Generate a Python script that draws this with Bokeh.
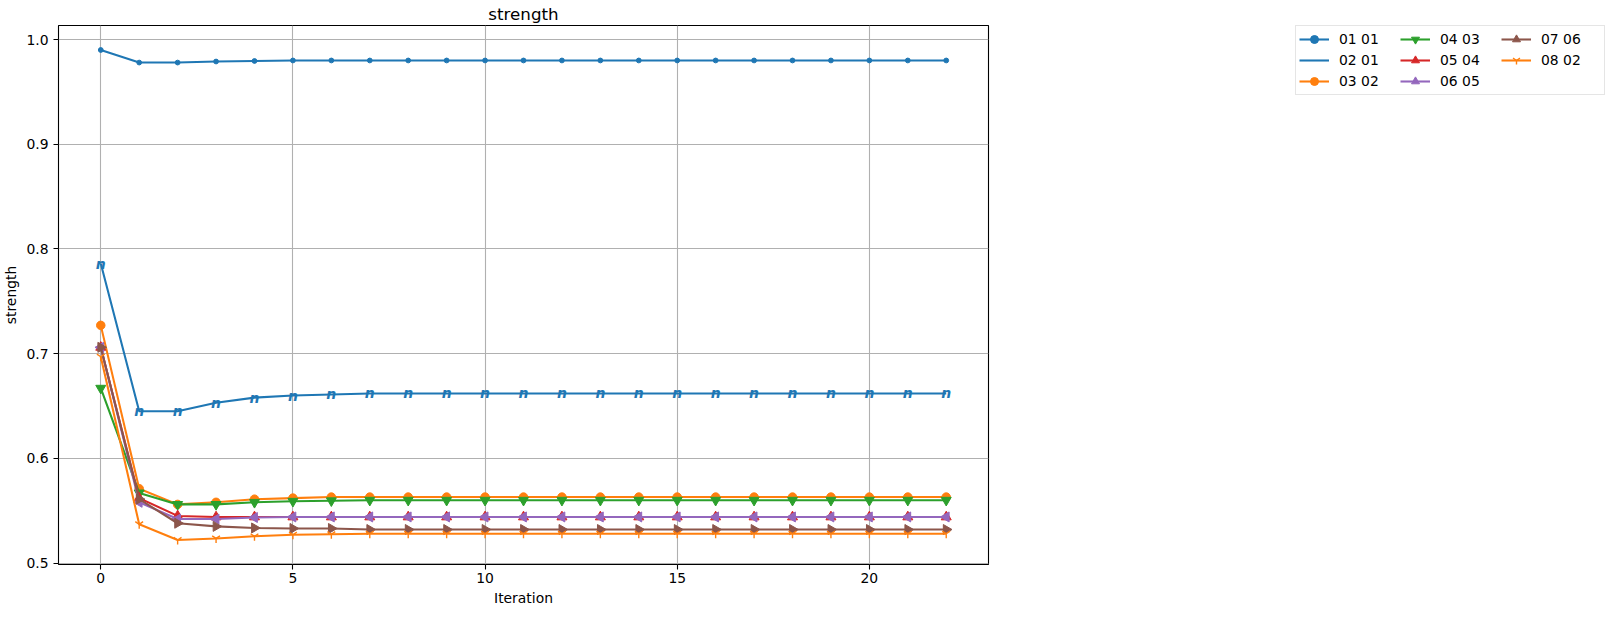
import math
from bokeh.plotting import figure
from bokeh.layouts import row
from bokeh.models import (Range1d, FixedTicker, Legend, LegendItem, ColumnDataSource,
                          PrintfTickFormatter)
from bokeh.core.properties import value
from bokeh.embed import file_html
from bokeh.resources import INLINE

iterations = list(range(23))

s_01_01 = [0.990, 0.978, 0.978, 0.979, 0.9795] + [0.980] * 18
s_02_01 = [0.786, 0.645, 0.645, 0.653, 0.658, 0.660, 0.661] + [0.662] * 16
s_03_02 = [0.727, 0.571, 0.556, 0.558, 0.561, 0.562, 0.563] + [0.563] * 16
s_04_03 = [0.667, 0.567, 0.556, 0.556, 0.558, 0.559, 0.5595] + [0.560] * 16
s_05_04 = [0.706, 0.562, 0.545, 0.544, 0.544, 0.544, 0.544] + [0.544] * 16
s_06_05 = [0.706, 0.558, 0.542, 0.542, 0.5435, 0.544, 0.544] + [0.544] * 16
s_07_06 = [0.706, 0.561, 0.538, 0.535, 0.5335, 0.533, 0.533] + [0.532] * 16
s_08_02 = [0.697, 0.537, 0.522, 0.5235, 0.5255, 0.527, 0.5275] + [0.528] * 16

labels = ["01 01", "02 01", "03 02", "04 03", "05 04", "06 05", "07 06", "08 02"]
series = [s_01_01, s_02_01, s_03_02, s_04_03, s_05_04, s_06_05, s_07_06, s_08_02]
colors = ["#1f77b4", "#1f77b4", "#ff7f0e", "#2ca02c", "#d62728", "#9467bd", "#8c564b", "#ff7f0e"]
markers = ["point", "text_n", "circle", "inverted_triangle", "triangle", "triangle_left", "triangle_right", "y"]
x_ticks = [0, 5, 10, 15, 20]
y_ticks = [0.5, 0.6, 0.7, 0.8, 0.9, 1.0]

all_vals = [v for s in series for v in s]
ymin, ymax = min(all_vals), max(all_vals)
ypad = (ymax - ymin) * 0.05
xpad = (max(iterations) - min(iterations)) * 0.05

FONT = "DejaVu Sans"
TOTAL_W, TOTAL_H = 1600, 608
MAIN_W = 993
LEG_W = TOTAL_W - MAIN_W

p = figure(frame_width=930, frame_height=539, output_backend="svg", toolbar_location=None,
           x_range=Range1d(min(iterations) - xpad, max(iterations) + xpad),
           y_range=Range1d(ymin - ypad, ymax + ypad),
           min_border_left=53, min_border_right=MAIN_W - 53 - 930, min_border_top=24,
           min_border_bottom=TOTAL_H - 24 - 539,
           title="strength")
p.title.align = "center"
p.title.text_font = FONT
p.title.text_font_size = "16.7px"
p.title.text_font_style = "normal"
p.title.text_color = "black"
p.title.standoff = 3

p.outline_line_color = "black"
p.outline_line_width = 1.1
p.background_fill_color = "white"
p.border_fill_color = "white"

for ax in (p.xaxis[0], p.yaxis[0]):
    ax.axis_line_color = None
    ax.major_tick_line_color = "black"
    ax.major_tick_line_width = 1.1
    ax.major_tick_out = 5
    ax.major_tick_in = 0
    ax.minor_tick_line_color = None
    ax.major_label_text_font = FONT
    ax.major_label_text_font_size = "13.9px"
    ax.major_label_text_color = "black"
    ax.axis_label_text_font = FONT
    ax.axis_label_text_font_size = "13.9px"
    ax.axis_label_text_font_style = "normal"
    ax.axis_label_text_color = "black"
p.xaxis.major_label_standoff = 3
p.yaxis.major_label_standoff = 5
p.xaxis.axis_label_standoff = 4
p.yaxis.axis_label_standoff = 4

p.xaxis.ticker = FixedTicker(ticks=x_ticks)
p.yaxis.ticker = FixedTicker(ticks=y_ticks)
p.yaxis.formatter = PrintfTickFormatter(format="%.1f")
p.xaxis.axis_label = "Iteration"
p.yaxis.axis_label = "strength"
p.xgrid.ticker = FixedTicker(ticks=x_ticks)
p.ygrid.ticker = FixedTicker(ticks=y_ticks)
p.grid.grid_line_color = "#b0b0b0"
p.grid.grid_line_width = 1.1

# side figure that carries the legend; its ranges lie away from the data so only the legend shows
lf = figure(width=LEG_W, height=TOTAL_H, output_backend="svg", toolbar_location=None,
            x_axis_type=None, y_axis_type=None, x_range=Range1d(100, 101), y_range=Range1d(100, 101),
            min_border_left=0, min_border_right=0, min_border_top=5, min_border_bottom=0)
lf.outline_line_color = None
lf.background_fill_color = "white"
lf.border_fill_color = "white"


def add_series(fig, src, c, m, with_text=True):
    rends = [fig.line("x", "y", source=src, line_color=c, line_width=2.08)]
    if m == "text_n":
        if with_text:
            rends.append(fig.text("x", "y", text="t", source=src, text_color=c,
                                  text_font=value(FONT), text_font_size="14px",
                                  text_font_style="bold italic", text_align="center",
                                  text_baseline="middle"))
    elif m == "y":
        rends.append(fig.scatter("x", "y", source=src, marker="y", size=9, line_color=c,
                                 line_width=1.4, fill_color=None))
    else:
        kw = dict(size=10)
        mk = m
        if m == "point":
            mk, kw["size"] = "circle", 4.8
        elif m == "circle":
            kw["size"] = 8.5
        elif m == "triangle_left":
            mk, kw["angle"] = "triangle", math.pi / 2
        elif m == "triangle_right":
            mk, kw["angle"] = "triangle", -math.pi / 2
        rends.append(fig.scatter("x", "y", source=src, marker=mk, line_color=c, fill_color=c, **kw))
    return rends


items = []
for lab, s, c, m in zip(labels, series, colors, markers):
    src = ColumnDataSource(dict(x=iterations, y=s, t=["n"] * len(s)))
    add_series(p, src, c, m)
    items.append(LegendItem(label=lab, renderers=add_series(lf, src, c, m, with_text=False)))

legend = Legend(items=items, ncols=3, location="top_right")
legend.label_text_font = FONT
legend.label_text_font_size = "13.9px"
legend.label_text_color = "black"
legend.glyph_width = 30
legend.glyph_height = 20
legend.label_height = 20
legend.label_width = 60
legend.spacing = 1
legend.padding = 3
legend.margin = 0
legend.label_standoff = 10
legend.border_line_color = "#cccccc"
legend.border_line_width = 1
legend.background_fill_color = "white"
legend.background_fill_alpha = 1.0
lf.add_layout(legend, "center")

layout = row(p, lf)
open("out.html", "w").write(file_html(layout, INLINE))
